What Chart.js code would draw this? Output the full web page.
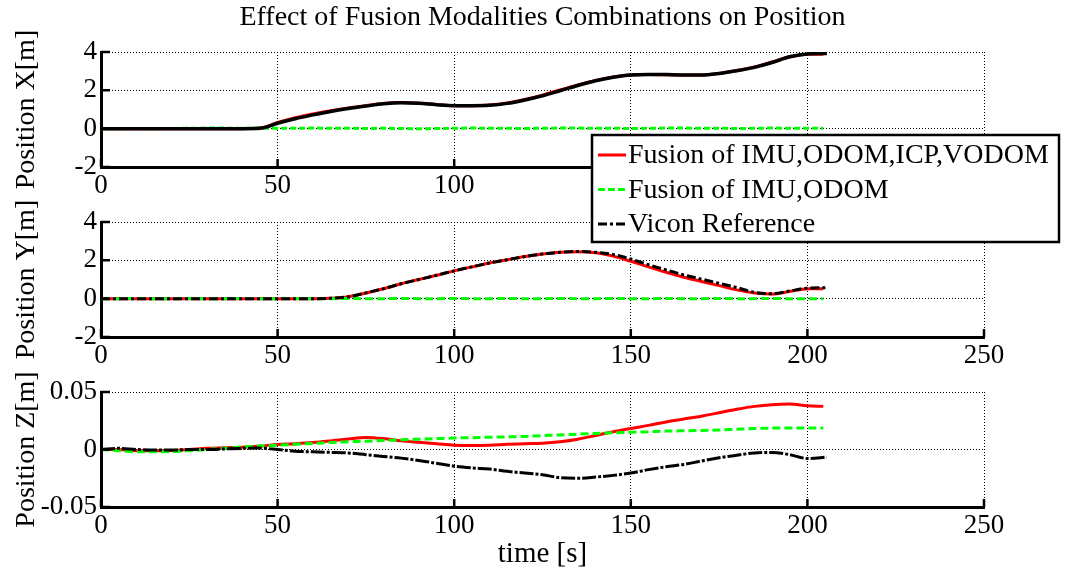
<!DOCTYPE html>
<html>
<head>
<meta charset="utf-8">
<title>Fusion modalities position</title>
<script src="https://cdn.jsdelivr.net/npm/chart.js@4.4.0/dist/chart.umd.min.js"></script>
<style>
  body { margin: 0; background: #fff; }
  #wrap { position: relative; width: 1070px; height: 576px; }
  #wrap canvas { position: absolute; left: 0; top: 0; }
</style>
</head>
<body>
<div id="wrap">
  <canvas id="chartX" width="1070" height="576"></canvas>
  <canvas id="chartY" width="1070" height="576"></canvas>
  <canvas id="chartZ" width="1070" height="576"></canvas>
</div>
<script>
const chartTitle = "Effect of Fusion Modalities Combinations on Position";
const seriesLabels = ["Fusion of IMU,ODOM,ICP,VODOM", "Fusion of IMU,ODOM", "Vicon Reference"];
const timeTicks = [0, 50, 100, 150, 200, 250];

// sample times [s]
const timeFusion = [0, 5, 10, 15, 20, 25, 30, 35, 40, 45, 50, 55, 60, 65, 70, 75, 80, 85, 90, 95, 100,
  105, 110, 115, 120, 125, 130, 135, 140, 145, 150, 155, 160, 165, 170, 175, 180, 185, 190, 195, 200, 204.5];
const timeVicon = [0, 5, 10, 15, 20, 25, 30, 35, 40, 45, 50, 55, 60, 65, 70, 75, 80, 85, 90, 95, 100,
  105, 110, 115, 120, 125, 130, 135, 140, 145, 150, 155, 160, 165, 170, 175, 180, 185, 190, 195, 200, 205.5];

// position X [m]
const xFull = [0, 0, 0, 0, 0, 0, 0, 0, 0, 0.03, 0.32, 0.57, 0.77, 0.94, 1.08, 1.2, 1.31, 1.36, 1.33, 1.26, 1.2,
  1.2, 1.23, 1.34, 1.52, 1.75, 2.02, 2.28, 2.52, 2.7, 2.8, 2.82, 2.81, 2.8, 2.8, 2.88, 3.03, 3.22, 3.48, 3.75, 3.88, 3.88];
const xBasic = [0, 0, 0.01, 0, 0.01, 0.02, 0.03, 0.03, 0.02, 0.03, 0.02, 0.02, 0.03, 0.02, 0.02, 0.01, 0.02, 0.01, 0, 0.01, 0.02,
  0.03, 0.02, 0.02, 0.01, 0.02, 0.03, 0.03, 0.02, 0.02, 0.01, 0.02, 0.03, 0.03, 0.02, 0.02, 0.01, 0.02, 0.03, 0.02, 0.02, 0.02];
const xVicon = [0, 0, 0, 0, 0, 0, 0, 0, 0, 0.02, 0.28, 0.52, 0.72, 0.9, 1.05, 1.18, 1.3, 1.35, 1.32, 1.25, 1.2,
  1.2, 1.22, 1.32, 1.5, 1.72, 1.98, 2.25, 2.5, 2.68, 2.8, 2.83, 2.82, 2.8, 2.8, 2.88, 3.02, 3.2, 3.45, 3.75, 3.9, 3.92];

// position Y [m]
const yFull = [0, 0, 0, 0, 0, 0, 0, 0, 0, 0, 0, 0, 0, 0.02, 0.1, 0.3, 0.52, 0.78, 1.0, 1.22, 1.45,
  1.66, 1.86, 2.03, 2.2, 2.33, 2.42, 2.45, 2.4, 2.22, 1.95, 1.66, 1.38, 1.12, 0.9, 0.68, 0.46, 0.3, 0.24, 0.38, 0.52, 0.52];
const yBasic = [0, 0, 0.01, 0, 0, 0.01, 0, 0, 0.01, 0, 0, 0.01, 0, 0, 0.01, 0, 0, 0.01, 0, 0, 0.01,
  0, 0, 0.01, 0, 0, 0.01, 0, 0, 0.01, 0, 0, 0.01, 0, 0, 0.01, 0, 0, 0.01, 0, 0, 0];
const yVicon = [0, 0, 0, 0, 0, 0, 0, 0, 0, 0, 0, 0, 0, 0.02, 0.1, 0.3, 0.52, 0.78, 1.0, 1.22, 1.45,
  1.66, 1.86, 2.03, 2.2, 2.33, 2.42, 2.46, 2.42, 2.3, 2.07, 1.77, 1.5, 1.24, 1.02, 0.8, 0.58, 0.33, 0.26, 0.4, 0.55, 0.57];

// position Z [m]
const zFull = [0, 0, -0.001, -0.001, -0.0008, 0, 0.001, 0.0015, 0.002, 0.003, 0.0043, 0.005, 0.006, 0.0075, 0.0092, 0.0105,
  0.0095, 0.0075, 0.0062, 0.005, 0.0038, 0.0035, 0.0038, 0.0045, 0.005, 0.0055, 0.0068, 0.009, 0.0122, 0.0155, 0.0183,
  0.021, 0.024, 0.0265, 0.029, 0.032, 0.035, 0.0375, 0.039, 0.0395, 0.038, 0.0375];
const zBasic = [0, -0.001, -0.002, -0.002, -0.0018, -0.001, 0, 0.001, 0.0022, 0.003, 0.0037, 0.0045, 0.0053, 0.006, 0.0068,
  0.0072, 0.0078, 0.0085, 0.009, 0.0095, 0.01, 0.0103, 0.0107, 0.011, 0.0114, 0.012, 0.0127, 0.0133, 0.014, 0.0145, 0.015,
  0.0155, 0.016, 0.0163, 0.0166, 0.017, 0.0176, 0.0182, 0.0186, 0.0186, 0.0186, 0.0186];
const zVicon = [0, 0.001, 0, -0.0005, -0.0005, 0, 0, 0.0005, 0.001, 0.0012, 0, -0.0015, -0.002, -0.0025, -0.003, -0.0045,
  -0.006, -0.0075, -0.0095, -0.012, -0.0145, -0.016, -0.017, -0.019, -0.0205, -0.022, -0.0245, -0.025, -0.024, -0.0225,
  -0.0205, -0.0175, -0.015, -0.013, -0.01, -0.0072, -0.005, -0.003, -0.0025, -0.0045, -0.0078, -0.0066];

const serif = '"Liberation Serif", "Times New Roman", serif';

function series(times, values) {
  return times.map((t, i) => ({ x: t, y: values[i] }));
}

// MATLAB style tick marks pointing into the axes box
const inwardTicks = {
  id: 'inwardTicks',
  afterDatasetsDraw(chart) {
    const { ctx, chartArea, scales } = chart;
    ctx.save();
    ctx.strokeStyle = '#000';
    ctx.lineWidth = 2.5;
    ctx.beginPath();
    scales.x.ticks.forEach(t => {
      const px = scales.x.getPixelForValue(t.value);
      ctx.moveTo(px, chartArea.bottom);
      ctx.lineTo(px, chartArea.bottom - 8);
    });
    scales.y.ticks.forEach(t => {
      const py = scales.y.getPixelForValue(t.value);
      ctx.moveTo(chartArea.left, py);
      ctx.lineTo(chartArea.left + 9, py);
    });
    ctx.stroke();
    ctx.restore();
  }
};

// boxed legend that sits over the X and Y panels
const fusionLegend = {
  id: 'fusionLegend',
  afterDraw(chart, args, opts) {
    const { ctx } = chart;
    const b = opts.box;
    ctx.save();
    ctx.fillStyle = '#fff';
    ctx.fillRect(b.x, b.y, b.w, b.h);
    ctx.lineWidth = 2.5;
    ctx.strokeStyle = '#000';
    ctx.strokeRect(b.x, b.y, b.w, b.h);
    ctx.font = '28px ' + serif;
    ctx.textBaseline = 'middle';
    chart.data.datasets.forEach((ds, i) => {
      const y = b.y + 20 + i * 34.5;
      ctx.beginPath();
      ctx.setLineDash(ds.legendDash || []);
      ctx.strokeStyle = ds.borderColor;
      ctx.lineWidth = ds.borderWidth;
      ctx.moveTo(b.x + 6, y);
      ctx.lineTo(b.x + 34, y);
      ctx.stroke();
      ctx.setLineDash([]);
      ctx.fillStyle = '#000';
      ctx.fillText(ds.label, b.x + 36, y + 1);
    });
    ctx.restore();
  }
};

function buildChart(id, cfg) {
  return new Chart(document.getElementById(id), {
    type: 'line',
    data: {
      datasets: [
        { label: seriesLabels[0], data: series(timeFusion, cfg.full), borderColor: '#ff0000',
          borderWidth: 3, order: 2 },
        { label: seriesLabels[1], data: series(timeFusion, cfg.basic), borderColor: '#00ff00',
          borderWidth: 3, borderDash: cfg.greenDash, legendDash: [7, 3], order: 1 },
        { label: seriesLabels[2], data: series(timeVicon, cfg.vicon), borderColor: '#000000',
          borderWidth: cfg.viconWidth, borderDash: cfg.viconDash, legendDash: [9, 3, 3, 3], order: 0 }
      ]
    },
    plugins: [inwardTicks, fusionLegend],
    options: {
      responsive: false,
      animation: false,
      events: [],
      layout: { padding: cfg.padding },
      elements: {
        point: { radius: 0 },
        line: { cubicInterpolationMode: 'monotone', borderCapStyle: 'butt' }
      },
      plugins: {
        legend: { display: false },
        tooltip: { enabled: false },
        title: cfg.title || { display: false },
        fusionLegend: cfg.legend ? { box: { x: 592, y: 135, w: 467, h: 107 } } : false
      },
      scales: {
        x: {
          type: 'linear', min: 0, max: 250,
          afterBuildTicks: s => { s.ticks = timeTicks.map(v => ({ value: v })); },
          ticks: { color: '#000', padding: 5, font: { family: serif, size: 27, lineHeight: 1 } },
          grid: { color: '#000', lineWidth: 1, drawTicks: false },
          border: { color: '#000', width: 3, dash: [1, 2] },
          title: cfg.xTitle || { display: false },
          afterFit: s => { s.height = cfg.xHeight; }
        },
        y: {
          min: cfg.yMin, max: cfg.yMax,
          afterBuildTicks: s => { s.ticks = cfg.yTicks.map(v => ({ value: v })); },
          ticks: { color: '#000', padding: 4, font: { family: serif, size: 27, lineHeight: 1 },
            callback: v => String(v) },
          grid: { color: '#000', lineWidth: 1, drawTicks: false },
          border: { color: '#000', width: 3, dash: [1, 2] },
          title: { display: true, text: cfg.yLabel, color: '#000',
            font: { family: serif, size: 28, lineHeight: 1 }, padding: { top: 13, bottom: 0 } },
          afterFit: s => { s.width = 101; }
        }
      }
    }
  });
}

buildChart('chartX', {
  full: xFull, basic: xBasic, vicon: xVicon,
  yMin: -2, yMax: 4, yTicks: [-2, 0, 2, 4], yLabel: 'Position X[m]',
  greenDash: [6, 3], viconDash: [], viconWidth: 3.5,
  xHeight: 43,
  padding: { left: 0, right: 86, top: 0, bottom: 366 },
  title: { display: true, text: chartTitle, color: '#000', fullSize: false,
    font: { family: serif, size: 28, weight: 'normal', lineHeight: 1 }, padding: { top: 4, bottom: 20 } }
});

buildChart('chartY', {
  full: yFull, basic: yBasic, vicon: yVicon,
  yMin: -2, yMax: 4, yTicks: [-2, 0, 2, 4], yLabel: 'Position Y[m]',
  greenDash: [8, 4], viconDash: [9, 3, 3, 3], viconWidth: 3,
  xHeight: 43,
  padding: { left: 0, right: 86, top: 222, bottom: 196 },
  legend: true
});

buildChart('chartZ', {
  full: zFull, basic: zBasic, vicon: zVicon,
  yMin: -0.05, yMax: 0.05, yTicks: [-0.05, 0, 0.05], yLabel: 'Position Z[m]',
  greenDash: [8, 4], viconDash: [14, 2, 3, 2], viconWidth: 3,
  xHeight: 69,
  padding: { left: 0, right: 86, top: 392, bottom: 0 },
  xTitle: { display: true, text: 'time [s]', color: '#000',
    font: { family: serif, size: 29, lineHeight: 1 }, padding: { top: 0, bottom: 7 } }
});
</script>
</body>
</html>
